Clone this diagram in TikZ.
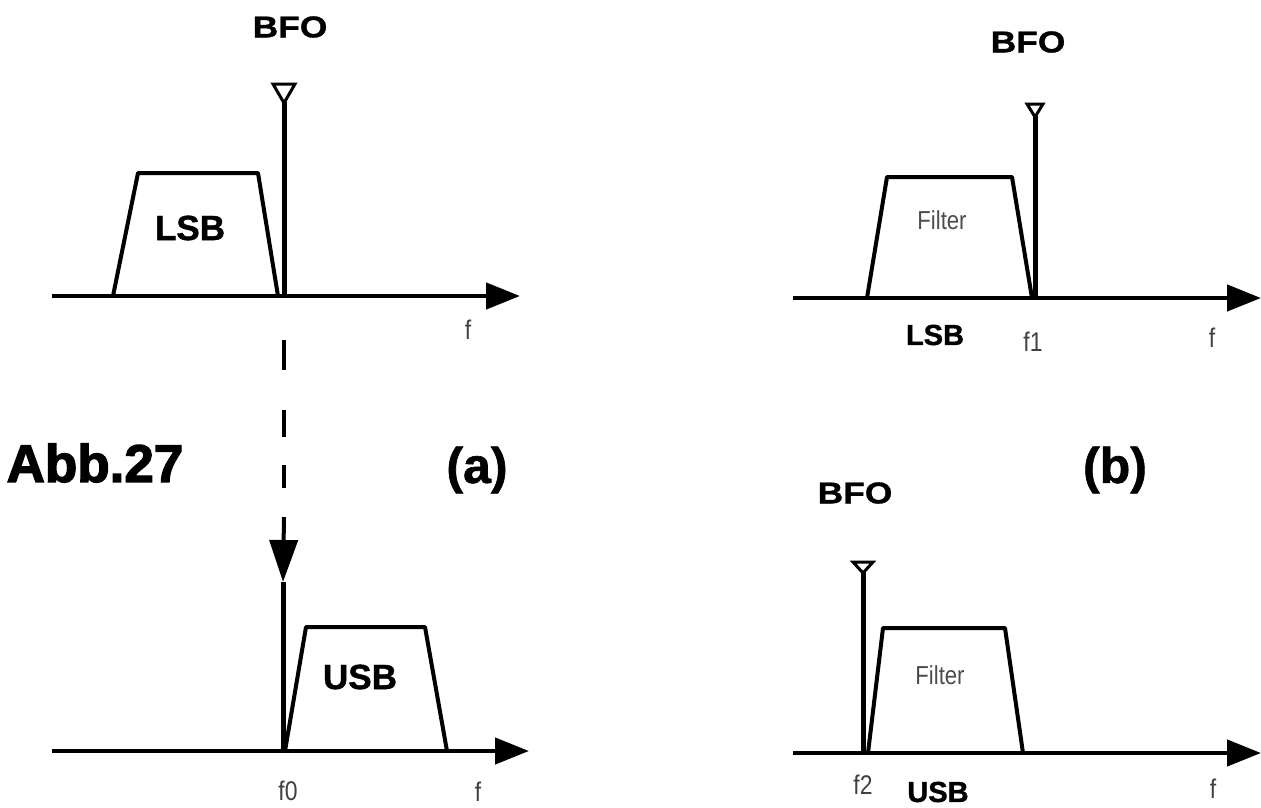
\documentclass[tikz,border=0pt]{standalone}
\usepackage{fontspec}
\setmainfont{Liberation Sans}
\newfontfamily\bfofont{Liberation Sans Bold}[FakeStretch=1.18,FakeBold=1.2]
\newfontfamily\boldfont{Liberation Sans Bold}[FakeBold=1.2]
\newfontfamily\heavyfont{Liberation Sans Bold}[FakeBold=2.6]
\newfontfamily\thinfont{Liberation Sans}[FakeStretch=0.85]
\usetikzlibrary{arrows.meta}
\tikzset{
  axisline/.style={line width=4.5pt, -{Triangle[length=34pt,width=26pt]}},
  band/.style={line width=4pt, line join=round},
  carrier/.style={line width=5pt},
  marker/.style={line width=3pt, fill=white, line join=miter},
  bfolbl/.style={inner sep=0pt, font=\bfofont\fontsize{30}{32}\selectfont},
  sblbl/.style={inner sep=0pt, font=\boldfont\fontsize{35}{38}\selectfont},
  smallsb/.style={inner sep=0pt, font=\boldfont\fontsize{29}{31}\selectfont},
  thinlbl/.style={inner sep=0pt, text=black!75, font=\thinfont\fontsize{27}{29}\selectfont},
  filterlbl/.style={inner sep=0pt, text=black!70, font=\thinfont\fontsize{26}{28}\selectfont},
  partlbl/.style={inner sep=0pt, font=\boldfont\fontsize{50}{54}\selectfont},
}
\begin{document}
\begin{tikzpicture}[x=1pt,y=-1pt]
\useasboundingbox (0,0) rectangle (1261,807);
% ---------- top left ----------
\coordinate (axA0) at (52,296);
\coordinate (axA1) at (520,296);
\draw[axisline] (axA0) -- (axA1);
\draw[band] (113,296) -- (138,173) -- (258,173) -- (278,296);
\coordinate (bfoAbase) at (284,296);
\coordinate (bfoAtop) at (284,102);
\draw[carrier] (bfoAbase) -- (bfoAtop);
\draw[marker] (273,84) -- (295,84) -- (284,103) -- cycle;
\node[bfolbl] (bfoA) at (290,27) {BFO};
\node[sblbl] (lsbA) at (190,228) {LSB};
\node[thinlbl] (fA) at (468,330) {f};
% dashed link
\coordinate (dashTop) at (284,340);
\coordinate (dashEnd) at (284,517);
\coordinate (arrTip) at (283,582);
\draw[line width=4pt, dash pattern=on 30pt off 40pt on 27pt off 28pt on 23pt off 29pt] (dashTop) -- (dashEnd);
\draw[line width=4pt, -{Triangle[length=42pt,width=28pt]}] (dashEnd) -- (arrTip);
% ---------- bottom left ----------
\coordinate (axC0) at (52,751);
\coordinate (axC1) at (529,751);
\draw[axisline] (axC0) -- (axC1);
\draw[band] (285,751) -- (306,627) -- (425,627) -- (447,751);
\coordinate (bfoCbase) at (283,751);
\draw[carrier] (arrTip) -- (bfoCbase);
\node[sblbl] (usbC) at (360,677) {USB};
\node[thinlbl] (f0) at (288,791) {f0};
\node[thinlbl] (fC) at (478,792) {f};
\node[inner sep=0pt, font=\heavyfont\fontsize{53}{56}\selectfont] (abb) at (95,463) {Abb.27};
\node[partlbl] (pa) at (477,470) {(a)};
% ---------- top right ----------
\coordinate (axB0) at (793,298);
\coordinate (axB1) at (1261,298);
\draw[axisline] (axB0) -- (axB1);
\draw[band] (867,298) -- (887,177) -- (1012,177) -- (1032,298);
\coordinate (bfoBbase) at (1035,298);
\coordinate (bfoBtop) at (1035,116);
\draw[carrier] (bfoBbase) -- (bfoBtop);
\draw[marker] (1027,104) -- (1043,104) -- (1035,117) -- cycle;
\node[bfolbl] (bfoB) at (1028,42) {BFO};
\node[filterlbl] (filB) at (942,220) {Filter};
\node[smallsb] (lsbB) at (935,335) {LSB};
\node[thinlbl] (f1) at (1033,342) {f1};
\node[thinlbl] (fB) at (1212,338) {f};
\node[partlbl] (pb) at (1115,470) {(b)};
% ---------- bottom right ----------
\coordinate (axD0) at (793,753);
\coordinate (axD1) at (1261,753);
\draw[axisline] (axD0) -- (axD1);
\draw[band] (868,753) -- (883,628) -- (1005,628) -- (1023,753);
\coordinate (bfoDbase) at (863,753);
\coordinate (bfoDtop) at (863,572);
\draw[carrier] (bfoDbase) -- (bfoDtop);
\draw[marker] (853,562) -- (873,562) -- (863,573) -- cycle;
\node[bfolbl] (bfoD) at (855,493) {BFO};
\node[filterlbl] (filD) at (940,675) {Filter};
\node[thinlbl] (f2) at (863,785) {f2};
\node[smallsb] (usbD) at (938,792) {USB};
\node[thinlbl] (fD) at (1213,789) {f};
\end{tikzpicture}
\end{document}
